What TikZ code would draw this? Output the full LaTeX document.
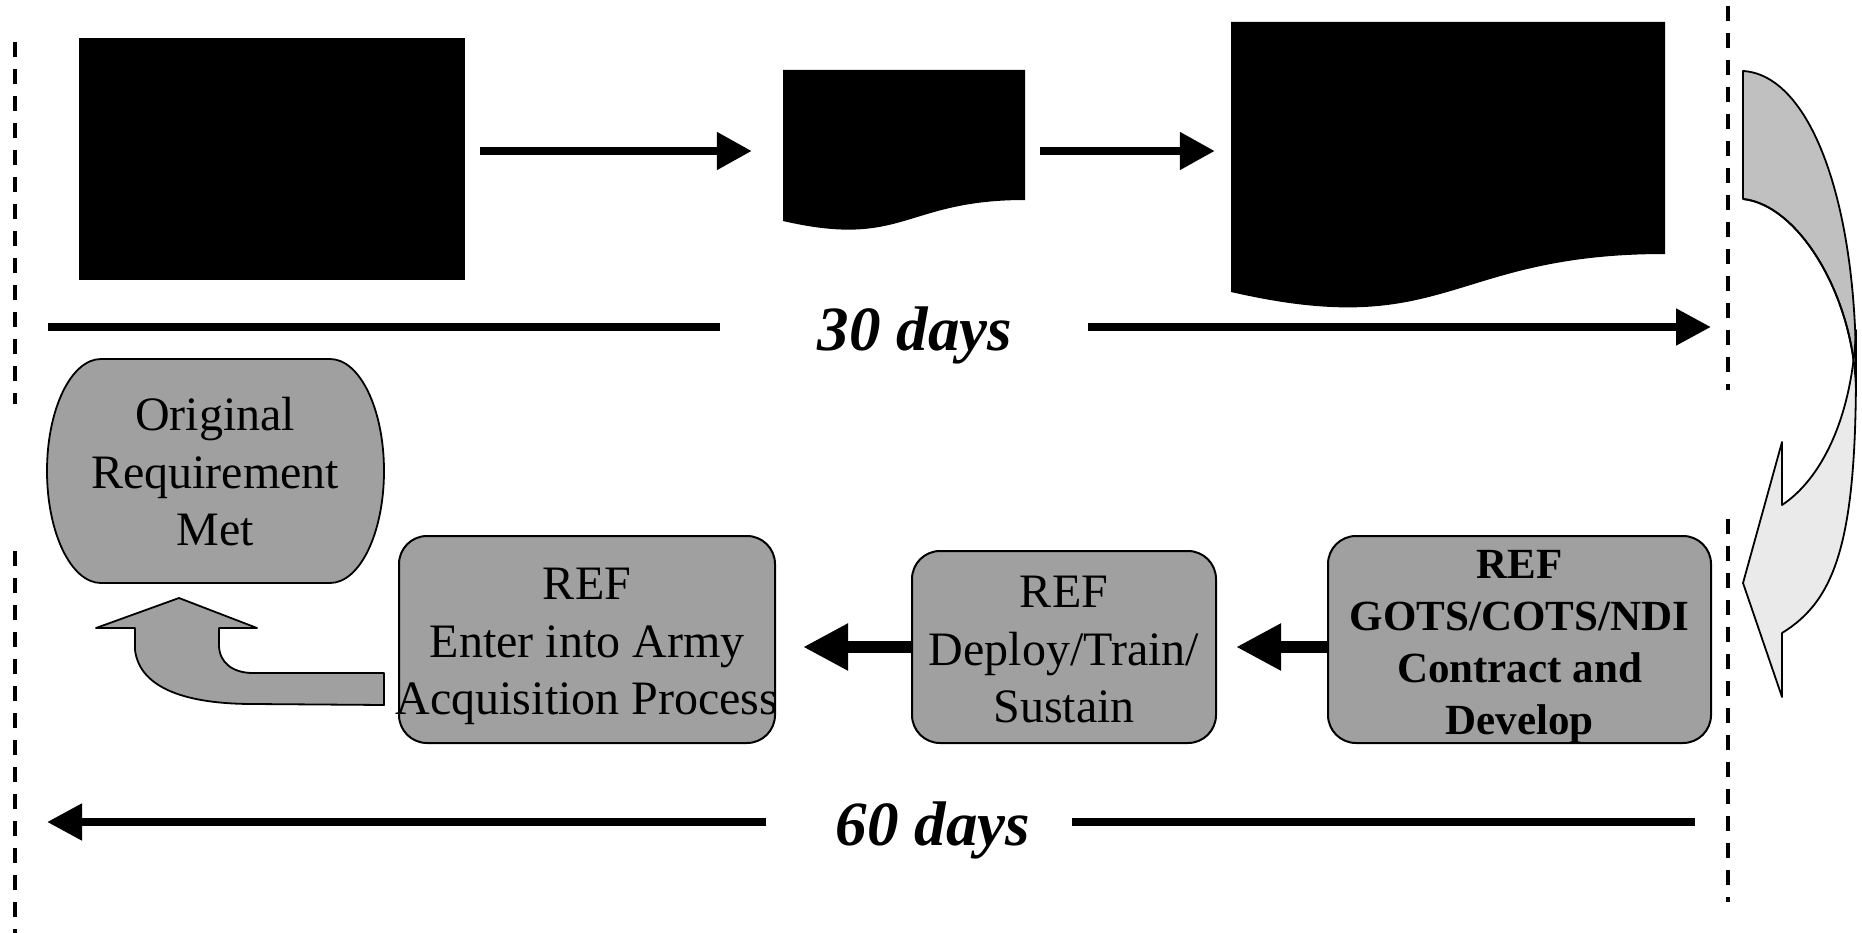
\documentclass[tikz,border=0pt]{standalone}
\usepackage{fontspec}
\setmainfont{Liberation Serif}
\usetikzlibrary{arrows.meta,calc}
\definecolor{boxgray}{RGB}{160,160,160}
\definecolor{backgray}{RGB}{192,192,192}
\definecolor{frontgray}{RGB}{234,234,234}
\begin{document}
\begin{tikzpicture}[x=1pt,y=-1pt,
  procbox/.style={draw=black, line width=2pt, fill=boxgray, rounded corners=28pt, inner sep=0pt},
  boxtext/.style={draw=none, inner sep=0pt, align=center, font=\fontsize{48}{57.5}\selectfont},
  boldtext/.style={boxtext, font=\fontsize{43}{52}\selectfont\bfseries},
  blockshape/.style={fill=black, draw=none, inner sep=0pt},
  ghost/.style={draw=none, inner sep=0pt},
  toparrow/.style={line width=8pt, -{Triangle[length=35pt,width=36pt]}},
  flowarrow/.style={line width=12pt, -{Triangle[length=45pt,width=44pt]}},
  dayline/.style={line width=8pt},
  dayarrow/.style={line width=8pt, -{Triangle[length=35pt,width=35pt]}},
  sepline/.style={line width=4pt, dash pattern=on 15pt off 12pt},
  daytext/.style={font=\fontsize{63}{75}\selectfont\bfseries\itshape, inner sep=0pt, anchor=base},
  outlined/.style={draw=black, line width=1.8pt, line join=round},
]
\useasboundingbox (0,0) rectangle (1862,933);

% separators
\draw[sepline] (15,42) -- (15,404);
\draw[sepline] (15,551) -- (15,933);
\draw[sepline] (1728,6) -- (1728,390);
\draw[sepline] (1728,519) -- (1728,902);

% top row
\node[blockshape, minimum width=386pt, minimum height=242pt] (r1) at (272,159) {};
\node[ghost, minimum width=242pt, minimum height=162pt] (d2) at (904,151) {};
\fill (783,70) -- (1025,70) -- (1025,200) .. controls (904,200) and (904,249) .. (783,221) -- cycle;
\node[ghost, minimum width=434pt, minimum height=258pt] (d3) at (1448,151) {};
\fill (1231,22) -- (1665,22) -- (1665,254) .. controls (1448,254) and (1448,342) .. (1231,292) -- cycle;

\draw[toparrow] ([xshift=15pt,yshift=8pt]r1.east) -- ([xshift=-31pt]d2.west);
\draw[toparrow] ([xshift=15pt]d2.east) -- ([xshift=-16pt]d3.west);

% 30 days
\node[daytext] (t30) at (915,350) {30 days};
\coordinate (l30a) at (48,327);
\coordinate (l30b) at (720,327);
\coordinate (l30c) at (1088,327);
\coordinate (l30d) at (1711,327);
\draw[dayline] (l30a) -- (l30b);
\draw[dayarrow] (l30c) -- (l30d);

% curved arrow (back part)
\filldraw[outlined, fill=backgray] (1743,71) .. controls (1810,75) and (1856,200) .. (1856,370) -- (1856,395) .. controls (1856,300) and (1800,205) .. (1743,199) -- cycle;
% curved arrow (front part)
\filldraw[outlined, fill=frontgray] (1856,330) -- (1856,370) .. controls (1856,540) and (1836,600) .. (1782,633) -- (1782,697) -- (1743,583) -- (1782,442) -- (1782,505) .. controls (1820,480) and (1852,420) .. (1856,330) -- cycle;
\draw[line width=1.8pt] (1743,199) .. controls (1800,205) and (1856,300) .. (1856,395);

% bottom row
\filldraw[outlined, fill=boxgray] (101,359) -- (330,359) arc[start angle=-90, end angle=90, x radius=54, y radius=112] -- (101,583) arc[start angle=90, end angle=270, x radius=54, y radius=112] -- cycle;
\node[boxtext] (orm) at (215,472) {Original\\Requirement\\Met};

\node[procbox, minimum width=376pt, minimum height=207pt] (enter) at (587,639.5) {};
\node[boxtext] (entertext) at ($(enter.center)+(0,7)$) {REF\\Enter into Army\\Acquisition Process};
\node[procbox, minimum width=304pt, minimum height=192pt] (deploy) at (1064,647) {};
\node[boxtext] (deploytext) at ($(deploy.center)+(0,3)$) {REF\\Deploy/Train/\\Sustain};
\node[procbox, minimum width=383pt, minimum height=207pt] (contract) at (1519.5,639.5) {};
\node[boldtext] (contracttext) at ($(contract.center)+(0,7)$) {REF\\GOTS/COTS/NDI\\Contract and\\Develop};

\draw[flowarrow] (contract.west |- deploy.east) -- ($(deploy.east)+(19,0)$);
\draw[flowarrow] (deploy.west) -- ($(enter.east |- deploy.west)+(27,0)$);

% curved up arrow into Original Requirement Met
\filldraw[outlined, fill=boxgray] (384,673) -- (253,673) .. controls (232,673) and (219,662) .. (219,645) -- (219,628) -- (257,628) -- (179,598) -- (96,628) -- (135,628) -- (135,650) .. controls (140,690) and (190,704) .. (253,704) -- (384,705) -- cycle;

% 60 days
\node[daytext] (t60) at (933,845) {60 days};
\coordinate (l60a) at (766,822);
\coordinate (l60b) at (47,822);
\coordinate (l60c) at (1072,822);
\coordinate (l60d) at (1695,822);
\draw[dayarrow] (l60a) -- (l60b);
\draw[dayline] (l60c) -- (l60d);
\end{tikzpicture}
\end{document}
